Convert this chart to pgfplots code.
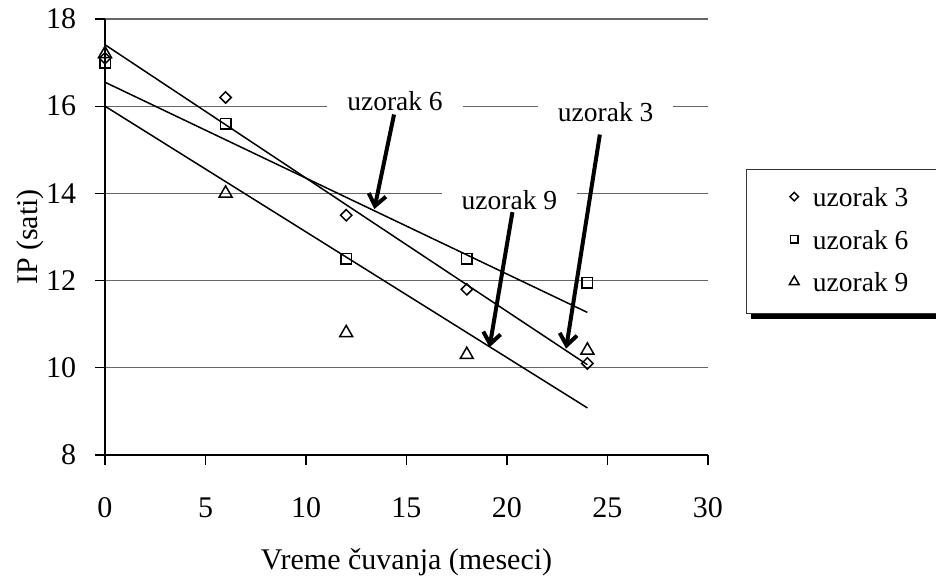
\documentclass[border=0pt]{standalone}
\usepackage{fontspec}
\setmainfont{Liberation Serif}
\usepackage{pgfplots}
\pgfplotsset{compat=1.18}
\usetikzlibrary{arrows.meta,shadows}

\begin{document}
\begin{tikzpicture}[x=1pt,y=1pt]
\clip (-42,-48.8) rectangle (332.4,182);
\begin{axis}[
  at={(0,0)}, anchor=south west,
  scale only axis, width=241.2pt, height=174.4pt,
  xmin=0, xmax=30, ymin=8, ymax=18,
  xtick={0,5,...,30}, ytick={8,10,...,18},
  axis x line*=bottom, axis y line*=left,
  axis line style={black, line width=0.6pt},
  ymajorgrids, grid style={black!60, line width=0.5pt},
  tick align=outside, major tick length=4pt,
  tick style={black, line width=0.5pt},
  ticklabel style={font=\fontsize{12}{14}\selectfont},
  /pgf/number format/assume math mode=true,
  xticklabel style={yshift=-9.6pt},
  yticklabel style={xshift=-4pt},
  xlabel={Vreme čuvanja (meseci)},
  ylabel={IP (sati)},
  every axis x label/.style={at={(axis description cs:0.5,0)}, anchor=center, yshift=-43pt, font=\fontsize{12}{14}\selectfont},
  every axis y label/.style={at={(axis description cs:-0.124,0.5)}, anchor=center, rotate=90, font=\fontsize{12}{14}\selectfont},
  clip=false,
  legend style={at={(1.063,0.656)}, anchor=north west, draw=black!80, fill=white,
    font=\fontsize{11}{13}\selectfont, line width=0.6pt,
    drop shadow={shadow xshift=1.8pt, shadow yshift=-2pt, fill=black, opacity=1},
    inner xsep=17pt, inner ysep=5.2pt, row sep=3.9pt,
    nodes={inner sep=2pt}},
  legend cell align=left,
  legend image code/.code={\draw[#1,/tikz/every mark/.append style={scale=0.75}] plot coordinates {(0pt,1pt)}; \path[draw=none,fill=none] (-2pt,0pt) (5.5pt,0pt);},
]
\addplot[only marks, mark=square, mark size=1.6pt, mark options={rotate=45, fill=white, draw=black, line width=0.6pt}]
  coordinates {(0,17.1) (6,16.2) (12,13.5) (18,11.8) (24,10.1)};
\addlegendentry{uzorak 3\hspace*{30pt}}
\addplot[only marks, mark=square, mark size=2.1pt, mark options={fill=white, draw=black, line width=0.6pt}]
  coordinates {(0,17.0) (6,15.6) (12,12.5) (18,12.5) (24,11.95)};
\addlegendentry{uzorak 6}
\addplot[only marks, mark=triangle, mark size=3pt, mark options={fill=white, draw=black, line width=0.6pt}]
  coordinates {(0,17.2) (6,14.0) (12,10.8) (18,10.3) (24,10.4)};
\addlegendentry{uzorak 9}

\addplot[black, line width=0.6pt, no markers, forget plot] coordinates {(0,17.41) (24,10.07)};
\addplot[black, line width=0.6pt, no markers, forget plot] coordinates {(0,16.55) (24,11.27)};
\addplot[black, line width=0.6pt, no markers, forget plot] coordinates {(0,16.0) (24,9.08)};

\node[fill=white, inner xsep=8pt, inner ysep=1pt, font=\fontsize{11}{13}\selectfont] at (axis cs:14.43,16.12) {uzorak 6};
\node[fill=white, inner xsep=8pt, inner ysep=1pt, font=\fontsize{11}{13}\selectfont] at (axis cs:24.91,15.87) {uzorak 3};
\node[fill=white, inner xsep=8pt, inner ysep=1pt, font=\fontsize{11}{13}\selectfont] at (axis cs:20.12,13.84) {uzorak 9};

\draw[line width=1.6pt, -{Straight Barb[length=4.5pt,width=7pt]}] (axis cs:14.38,15.81) -- (axis cs:13.40,13.64);
\draw[line width=1.6pt, -{Straight Barb[length=4.5pt,width=7pt]}] (axis cs:24.62,15.35) -- (axis cs:22.94,10.44);
\draw[line width=1.6pt, -{Straight Barb[length=4.5pt,width=7pt]}] (axis cs:20.27,13.57) -- (axis cs:19.13,10.47);
\end{axis}
\end{tikzpicture}
\end{document}
